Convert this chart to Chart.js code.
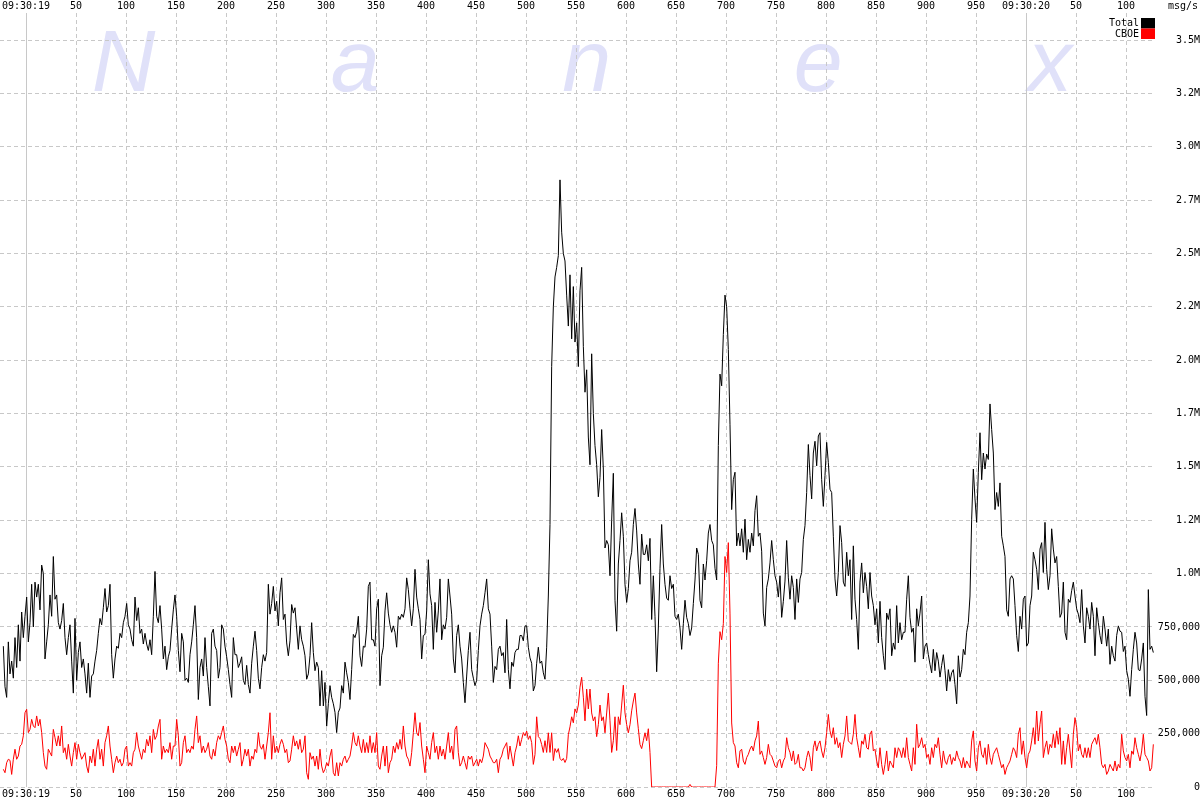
<!DOCTYPE html>
<html>
<head>
<meta charset="utf-8">
<script src="https://cdn.jsdelivr.net/npm/chart.js@4"></script>
<style>
  html, body { margin: 0; padding: 0; background: #fff; }
  #chart { display: block; }
</style>
</head>
<body>
<canvas id="chart" width="1200" height="800"></canvas>
<script>
// Nanex style msg/s chart: Total vs CBOE, one second of 09:30:19, values in thousands of msg/s.

const START_MS = -22.67;   // first sample, ms after 09:30:19.000
const STEP_MS = 5 / 3;     // sample spacing

// Total msg/s (k), split by time segment
const total1 = [
  660,470,420,680,530,590,510,700,560,760, 590,820,700,800,890,680,770,950,750,960,
  890,950,830,1040,1000,600,680,760,900,800, 1080,880,900,770,740,780,860,700,620,700,
  760,590,440,790,500,630,680,560,600,530, 440,580,420,520,530,590,640,720,790,760,
  840,930,820,850,950,620,510,600,660,650, 720,700,770,800,860,760,740,690,660,890,
  780,840,720,740,670,720,670,640,690,620, 800,1010,800,770,850,740,600,660,550,610,
  640,740,830,900,800,640,540,720,680,500, 510,490,620,680,760,850,700,410,560,600,
  520,700,560,470,380,720,740,660,640,510, 560,760,740,660,610,550,480,420,700,620,
  620,560,580,610,500,480,570,480,440,580, 660,730,640,510,460,560,620
];
const total2 = [
  590,630,950,810,860,940,825,870,755,910, 980,785,810,675,615,685,855,815,840,740,
  645,755,690,660,615,505,530,615,770,630, 545,585,560,380,545,380,490,285,390,475,
  420,390,350,255,350,370,475,440,585,535, 490,410,550,715,700,730,800,615,565,660,
  655,740,940,960,690,690,660,835,880,475, 615,655,825,910,815,760,725,755,725,655,
  800,785,810,795,835,980,925,835,755,835, 1020,890,835,785,600,710,715,825,1065,905,
  850,645,865,725,825,975,690,760,740,795, 975,895,810,600,535,710,760,660,600,490,
  395,520,640,725,550,510,475,500,640,755, 810,850,910,975,835,810,660,490,565,550,
  645,660,615,630,535,785,550,460,585,565, 630,645,645,710,710,685,755,755,655,605
];
const total3 = [
  580,450,475,580,655,580,590,535,505,655, 895,1230,1970,2250,2390,2435,2490,2845,2600,2500,
  2465,2305,2160,2400,2100,2345,2085,2175,1970,2325, 2435,2065,1850,1955,1640,1510,2030,1750,1600,1510,
  1360,1450,1675,1490,1120,1155,1135,990,1250,1470, 875,730,1045,1155,1285,1175,950,865,930,1060,
  1100,1230,1305,1200,1045,950,1185,1090,1090,1135, 1060,1165,785,990,800,540,745,1025,1230,1045,
  950,885,875,990,930,950,800,785,810,745, 645,765,875,795,765,710,745,860,970,1120,
  1090,875,840,1045,970,1060,1190,1230,1155,1135, 1025,970,1600,1935,1880,2120,2305
];
const total4 = [
  2250,2050,1700,1300,1440,1475,1130,1190,1130,1210, 1100,1255,1065,1160,1100,1190,1130,1295,1365,1175,
  1190,1105,815,755,935,975,1050,1155,1065,990, 960,890,990,795,870,965,1155,980,880,990,
  935,785,975,865,975,1005,1160,1225,1380,1605, 1460,1350,1565,1620,1505,1645,1660,1440,1315,1460,
  1615,1520,1395,1380,1175,975,895,1005,1225,1145, 960,940,1100,990,1065,785,1130,880,785,645,
  960,1050,910,1005,940,835,1005,895,850,760, 835,675,870,700,615,550,815,785,835,615,
  675,645,850,675,770,690,725
];
const total5 = [
  725,880,990,795,725,745,585,835,755,815, 895,600,660,675,620,575,535,645,545,630,
  590,515,570,620,545,450,550,495,535,550, 480,390,615,515,550,645,620,725,770,895,
  1255,1490,1350,1240,1475,1660,1440,1565,1490,1560, 1535,1795,1675,1565,1300,1380,1315,1425,1175,1130,
  1080,830,800,975,990,975,850,710,635,800, 740,880,895,660,675,850,895,1100,1065,1020,
  925,1115,1145,1005,1240,1020,925,990,1210,1115, 1050,1080,940,795,815,960,725,690,880,865,
  920,960,895,835,810,770,925,755,675,840, 800,740,865,800,615,840,770,710,670,800,
  740,660,740,575,660,615,590,710,755,730, 725,635,660,545,505,425,550,645,725,675,
  550,545,600,675,425,335,925,645,660,630
];

// CBOE msg/s (k), same sample times
const cboe1 = [
  83,67,114,130,125,59,130,177,130,145, 192,200,240,348,364,255,270,317,286,278,
  333,286,317,255,161,98,83,177,161,145, 270,231,192,240,192,286,161,184,130,200,
  145,98,161,208,130,200,161,130,145,161, 98,67,145,114,177,98,177,223,130,177,
  98,208,240,286,192,130,67,114,145,114, 130,98,114,177,192,98,114,98,161,177,
  255,192,161,130,177,161,223,192,240,161, 270,223,240,286,317,130,192,161,177,161,
  208,130,192,192,317,240,98,114,208,240, 161,177,161,192,177,270,333,208,240,161,
  192,161,177,208,145,130,177,145,208,240, 223,255,286,223,192,130,114,192,161,192,
  145,177,208,98,130,177,145,177,98,145, 130,177,161,255,192,177,200
];
const cboe2 = [
  130,192,255,348,130,240,161,192,161,200, 223,200,161,177,114,122,177,240,192,216,
  177,223,161,177,240,67,36,161,130,145, 98,145,83,177,98,67,83,114,98,145,
  177,67,52,114,52,114,98,130,145,114, 130,145,192,255,208,192,240,192,161,223,
  161,208,161,240,161,208,161,255,98,83, 145,192,98,192,67,114,130,192,161,208,
  177,223,177,286,192,145,130,98,161,255, 348,255,240,302,192,130,67,192,161,130,
  208,255,161,192,130,192,145,177,130,192, 255,161,192,130,270,286,161,98,114,145,
  114,83,145,130,145,98,114,130,98,130, 114,145,208,192,177,145,130,114,114,130,
  67,130,145,177,192,208,130,192,145,98, 161,192,240,192,223,255,240,262,223,240
];
const cboe3 = [
  208,106,152,329,236,227,199,162,217,162, 254,162,254,124,180,162,180,134,124,134,
  115,134,245,282,329,301,366,347,384,468, 514,421,310,459,366,459,347,310,329,236,
  292,384,310,329,254,347,440,310,162,217, 329,171,329,292,384,477,347,292,254,292,
  357,403,440,347,273,199,180,217,254,217, 273,162,0,0,0,0,0,0,0,0,
  0,0,0,0,0,0,0,0,0,0, 0,0,0,0,0,12,0,0,0,0,
  0,0,0,0,0,0,0,0,0,0, 0,100,580,728,690,765,1080
];
const cboe4 = [
  1005,1145,815,300,208,192,114,90,169,177, 122,106,138,153,177,192,169,216,239,309,
  153,169,138,106,138,200,153,145,122,98, 90,122,130,90,122,138,231,184,161,122,
  169,106,114,153,90,90,75,90,138,169, 138,75,184,216,169,200,216,169,138,184,
  255,340,263,231,278,200,231,184,208,138, 200,239,333,216,208,200,247,340,231,184,
  138,216,200,247,184,177,247,263,169,177, 122,90,184,106,59,106,169,75,122,106,
  90,184,138,184,169,138,184
];
const cboe5 = [
  138,231,138,106,75,184,106,294,184,200, 231,184,200,138,153,106,184,138,200,184,
  231,153,90,169,122,106,138,153,106,138, 122,169,138,122,90,138,90,122,106,90,
  216,263,122,75,184,216,153,138,184,106, 200,138,106,153,169,184,153,122,90,106,
  59,90,106,122,153,184,169,138,247,278, 153,216,138,90,153,169,216,278,200,356,
  216,294,356,138,184,216,153,200,184,247, 184,263,200,278,106,216,106,184,247,169,
  90,247,325,278,169,200,153,138,184,138, 184,138,200,216,231,200,247,184,106,90,
  106,59,75,106,90,75,122,75,106,90, 247,169,138,122,153,90,169,153,231,184,
  153,122,169,247,153,138,122,75,90,200
];

const seriesNames = ['Total', 'CBOE'];
const seriesColors = ['#000000', '#ff0000'];
const watermark = ['N', 'a', 'n', 'e', 'x'];

const totalValues = [...total1, ...total2, ...total3, ...total4, ...total5];
const cboeValues = [...cboe1, ...cboe2, ...cboe3, ...cboe4, ...cboe5];

const toPoints = vals => vals.map((v, i) => ({ x: START_MS + i * STEP_MS, y: v }));

const X_MIN = -26, X_MAX = 1129;
const Y_MAX = 3627;
const GRID = '#c8c8c8';

function timeLabel(v) {
  if (v === 0) return '09:30:19';
  if (v === 1000) return '09:30:20';
  return String(v % 1000);
}

function rateLabel(v) {
  if (v === 0) return '0';
  if (v < 1000) return (v * 1000).toLocaleString('en-US');
  return (Math.floor(v / 100) / 10).toFixed(1) + 'M';
}

const decorations = {
  id: 'decorations',
  beforeDraw(chart) {
    const { ctx, chartArea: a } = chart;
    ctx.save();
    ctx.fillStyle = '#ffffff';
    ctx.fillRect(0, 0, chart.width, chart.height);
    // faint watermark behind the grid
    ctx.fillStyle = '#e0e1f9';
    ctx.font = 'italic 88px "Liberation Sans", Arial, sans-serif';
    ctx.textAlign = 'center';
    ctx.textBaseline = 'alphabetic';
    const w = a.right - a.left;
    watermark.forEach((ch, i) => {
      ctx.fillText(ch, a.left + w * (0.107 + i * 0.2005), a.top + 78);
    });
    ctx.restore();
  },
  afterDraw(chart) {
    const { ctx, chartArea: a } = chart;
    ctx.save();
    ctx.font = '10px "DejaVu Sans Mono", monospace';
    ctx.fillStyle = '#000';
    ctx.textAlign = 'right';
    ctx.textBaseline = 'middle';
    ctx.fillText('msg/s', chart.width - 2, 6);
    seriesNames.forEach((name, i) => {
      const y = a.top + 5 + i * 10.5;
      ctx.fillStyle = seriesColors[i];
      ctx.fillRect(a.right - 14, y, 14, 10.5);
      ctx.fillStyle = '#000';
      ctx.fillText(name, a.right - 16, y + 5.5);
    });
    ctx.restore();
  }
};

Chart.defaults.font.family = '"DejaVu Sans Mono", monospace';
Chart.defaults.font.size = 10;
Chart.defaults.color = '#000';

const xTicks = {
  stepSize: 50,
  includeBounds: false,
  autoSkip: false,
  maxRotation: 0,
  padding: 1,
  callback: timeLabel
};

new Chart(document.getElementById('chart'), {
  type: 'line',
  data: {
    datasets: [
      {
        label: seriesNames[0],
        data: toPoints(totalValues),
        borderColor: seriesColors[0],
        borderWidth: 1,
        pointRadius: 0,
        tension: 0,
        order: 1
      },
      {
        label: seriesNames[1],
        data: toPoints(cboeValues),
        borderColor: seriesColors[1],
        borderWidth: 1,
        pointRadius: 0,
        tension: 0,
        order: 0
      }
    ]
  },
  options: {
    responsive: false,
    animation: false,
    events: [],
    layout: { padding: 0 },
    plugins: { legend: { display: false }, tooltip: { enabled: false } },
    scales: {
      x: {
        type: 'linear',
        position: 'bottom',
        min: X_MIN,
        max: X_MAX,
        ticks: xTicks,
        afterFit: s => { s.height = 13; },
        grid: { color: GRID, drawTicks: false },
        border: {
          display: false,
          dash: ctx => (ctx.tick && ctx.tick.value % 1000 === 0) ? [] : [4, 3]
        }
      },
      x2: {
        type: 'linear',
        position: 'top',
        min: X_MIN,
        max: X_MAX,
        ticks: xTicks,
        afterFit: s => { s.height = 13; },
        grid: { display: false, drawTicks: false },
        border: { display: false }
      },
      y: {
        position: 'right',
        min: 0,
        max: Y_MAX,
        ticks: {
          stepSize: 250,
          includeBounds: false,
          crossAlign: 'far',
          padding: 3,
          callback: rateLabel
        },
        afterFit: s => { s.width = 45; },
        grid: { color: GRID, drawTicks: false },
        border: { display: false, dash: [4, 3] }
      }
    }
  },
  plugins: [decorations]
});
</script>
</body>
</html>
